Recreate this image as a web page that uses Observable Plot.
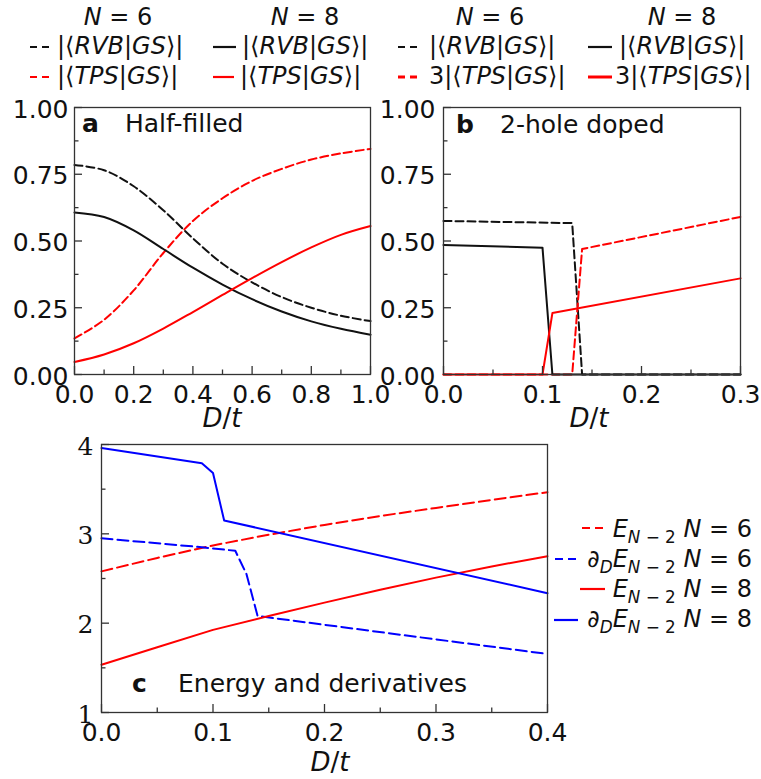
<!DOCTYPE html>
<html>
<head>
<meta charset="utf-8">
<script src="https://cdn.jsdelivr.net/npm/d3@7"></script>
<script src="https://cdn.jsdelivr.net/npm/@observablehq/plot@0.6"></script>
<style>
  html, body { margin: 0; padding: 0; background: #fff; }
  #root { position: relative; width: 761px; height: 779px; overflow: hidden; font-family: "DejaVu Sans", sans-serif; }
  #root > svg { position: absolute; left: 0; top: 0; overflow: visible; }
</style>
</head>
<body>
<div id="root"></div>
<script>
// ---------- Panel a: half-filled ----------
const aX      = [0, 0.1, 0.2, 0.3, 0.4, 0.5, 0.6, 0.7, 0.8, 0.9, 1.0];
const aRvbN6  = [0.785, 0.765, 0.705, 0.615, 0.51, 0.415, 0.345, 0.29, 0.25, 0.22, 0.20];
const aTpsN6  = [0.135, 0.205, 0.315, 0.455, 0.575, 0.66, 0.725, 0.77, 0.805, 0.828, 0.845];
const aRvbN8  = [0.607, 0.590, 0.540, 0.470, 0.400, 0.337, 0.282, 0.236, 0.199, 0.171, 0.149];
const aTpsN8  = [0.047, 0.075, 0.117, 0.172, 0.234, 0.298, 0.361, 0.421, 0.476, 0.523, 0.556];

// ---------- Panel b: 2-hole doped ----------
const bRvbN6X = [0, 0.13, 0.14, 0.3];
const bRvbN6Y = [0.575, 0.567, 0, 0];
const bTpsN6X = [0, 0.13, 0.14, 0.3];
const bTpsN6Y = [0, 0, 0.47, 0.59];
const bRvbN8X = [0, 0.1, 0.11, 0.3];
const bRvbN8Y = [0.485, 0.475, 0, 0];
const bTpsN8X = [0, 0.1, 0.11, 0.3];
const bTpsN8Y = [0, 0, 0.23, 0.36];

// ---------- Panel c: energy and derivatives ----------
const cX      = [0, 0.05, 0.1, 0.15, 0.2, 0.25, 0.3, 0.35, 0.4];
const cEN6    = [2.58, 2.73, 2.87, 2.99, 3.10, 3.20, 3.29, 3.38, 3.466];
const cEN8    = [1.535, 1.73, 1.925, 2.08, 2.23, 2.375, 2.51, 2.635, 2.75];
const cDN6X   = [0, 0.09, 0.12, 0.13, 0.14, 0.4];
const cDN6Y   = [2.95, 2.85, 2.81, 2.55, 2.08, 1.655];
const cDN8X   = [0, 0.09, 0.10, 0.11, 0.4];
const cDN8Y   = [3.96, 3.79, 3.68, 3.15, 2.335];

// ---------- ticks ----------
const aXMajor = [0, 0.2, 0.4, 0.6, 0.8, 1.0];
const aXMinor = [0.1, 0.3, 0.5, 0.7, 0.9];
const abYMajor = [0, 0.25, 0.5, 0.75, 1.0];
const abYMinor = [0.125, 0.375, 0.625, 0.875];
const bXMajor = [0, 0.1, 0.2, 0.3];
const bXMinor = [0.05, 0.15, 0.25];
const cXMajor = [0, 0.1, 0.2, 0.3, 0.4];
const cXMinor = [0.05, 0.15, 0.25, 0.35];
const cYMajor = [1, 2, 3, 4];
const cYMinor = [1.5, 2.5, 3.5];

const W = 761, H = 779;
const root = document.getElementById("root");
const pts = (xs, ys) => xs.map((x, i) => ({x, y: ys[i]}));
const FRAME = "#333";

function panel({left, right, top, bottom, xDomain, yDomain, xMajor, xMinor, yMajor, yMinor, xFmt, yFmt, series, yFont, yPad}) {
  const pw = right - left, ph = bottom - top;
  const marks = [];
  for (const s of series) {
    marks.push(Plot.line(pts(s.x, s.y), {x: "x", y: "y", stroke: s.color, strokeWidth: 2,
      strokeDasharray: s.dash || null, curve: s.curve || "linear"}));
  }
  marks.push(
    Plot.frame({stroke: FRAME, strokeWidth: 1.3}),
    Plot.tickX(xMajor, {x: d => d, insetTop: ph - 8, stroke: FRAME, strokeWidth: 1.3}),
    Plot.tickX(xMinor, {x: d => d, insetTop: ph - 4.5, stroke: FRAME, strokeWidth: 1.3}),
    Plot.tickY(yMajor, {y: d => d, insetRight: pw - 8, stroke: FRAME, strokeWidth: 1.3}),
    Plot.tickY(yMinor, {y: d => d, insetRight: pw - 4.5, stroke: FRAME, strokeWidth: 1.3}),
    Plot.axisX(xMajor, {tickSize: 0, tickPadding: 11, tickFormat: xFmt, fontSize: 25, label: null, fill: "#111"}),
    Plot.axisY(yMajor, {tickSize: 0, tickPadding: yPad, tickFormat: yFmt, fontSize: 25, label: null, fill: "#111",
      dy: 2, fontFamily: yFont || "DejaVu Sans"})
  );
  const svg = Plot.plot({
    width: W, height: H,
    marginLeft: left, marginRight: W - right, marginTop: top, marginBottom: H - bottom,
    x: {domain: xDomain, axis: null},
    y: {domain: yDomain, axis: null},
    style: {background: "transparent", overflow: "visible", fontFamily: "DejaVu Sans", color: "#111"},
    marks
  });
  root.appendChild(svg);
}

panel({left: 74, right: 370, top: 107, bottom: 374, xDomain: [0, 1], yDomain: [0, 1],
  xMajor: aXMajor, xMinor: aXMinor, yMajor: abYMajor, yMinor: abYMinor,
  xFmt: d3.format(".1f"), yFmt: d3.format(".2f"), yPad: 6,
  series: [
    {x: aX, y: aRvbN6, color: "#111", dash: "8,4", curve: "catmull-rom"},
    {x: aX, y: aTpsN6, color: "#ff0000", dash: "8,4", curve: "catmull-rom"},
    {x: aX, y: aRvbN8, color: "#111", curve: "catmull-rom"},
    {x: aX, y: aTpsN8, color: "#ff0000", curve: "catmull-rom"}
  ]});

panel({left: 443, right: 740, top: 107, bottom: 374, xDomain: [0, 0.3], yDomain: [0, 1],
  xMajor: bXMajor, xMinor: bXMinor, yMajor: abYMajor, yMinor: abYMinor,
  xFmt: d3.format(".1f"), yFmt: d3.format(".2f"), yPad: 8,
  series: [
    {x: bRvbN6X, y: bRvbN6Y, color: "#111", dash: "8,4"},
    {x: bTpsN6X, y: bTpsN6Y, color: "#ff0000", dash: "8,4"},
    {x: bRvbN8X, y: bRvbN8Y, color: "#111"},
    {x: bTpsN8X, y: bTpsN8Y, color: "#ff0000"}
  ]});

panel({left: 101, right: 547, top: 444, bottom: 712, xDomain: [0, 0.4], yDomain: [1, 4],
  xMajor: cXMajor, xMinor: cXMinor, yMajor: cYMajor, yMinor: cYMinor,
  xFmt: d3.format(".1f"), yFmt: d3.format("d"), yPad: 8, yFont: "DejaVu Serif",
  series: [
    {x: cX, y: cEN6, color: "#ff0000", dash: "11,5"},
    {x: cDN6X, y: cDN6Y, color: "#0000ff", dash: "11,5"},
    {x: cX, y: cEN8, color: "#ff0000"},
    {x: cDN8X, y: cDN8Y, color: "#0000ff"}
  ]});

// ---------- overlay text: legends, labels, annotations ----------
const ov = d3.create("svg").attr("width", W).attr("height", H)
  .style("font-family", "DejaVu Sans").style("overflow", "visible");
root.appendChild(ov.node());

function txt(x, y, parts, {anchor = "start", size = 24, weight = "normal"} = {}) {
  const t = ov.append("text").attr("x", x).attr("y", y).attr("text-anchor", anchor)
    .attr("font-size", size).attr("font-weight", weight).attr("fill", "#111")
    .style("white-space", "pre");
  let inSub = false;
  for (const p of parts) {
    const s = t.append("tspan").text(p.t);
    if (p.i) s.attr("font-style", "oblique");
    if (p.b) s.attr("font-weight", "bold");
    if (p.sub) {
      s.attr("font-size", size * 0.7);
      if (!inSub) s.attr("dy", size * 0.25);
      inSub = true;
    } else if (inSub) {
      s.attr("dy", -size * 0.25);
      inSub = false;
    }
  }
  return t;
}
function sample(x1, x2, y, color, dash, w = 2.2) {
  ov.append("line").attr("x1", x1).attr("x2", x2).attr("y1", y).attr("y2", y)
    .attr("stroke", color).attr("stroke-width", w).attr("stroke-dasharray", dash || null);
}

const N6 = [{t: "N", i: 1}, {t: " = 6"}];
const N8 = [{t: "N", i: 1}, {t: " = 8"}];
const RVB = [{t: "|⟨"}, {t: "RVB", i: 1}, {t: "|"}, {t: "GS", i: 1}, {t: "⟩|"}];
const TPS = [{t: "|⟨"}, {t: "TPS", i: 1}, {t: "|"}, {t: "GS", i: 1}, {t: "⟩|"}];
const TPS3 = [{t: "3"}].concat(TPS);

// top-left legend
txt(118, 25, N6, {anchor: "middle"});
txt(305, 25, N8, {anchor: "middle"});
sample(30, 50, 47, "#111", "7,5");
txt(57, 54, RVB);
sample(213, 236, 47, "#111");
txt(242, 54, RVB);
sample(30, 50, 77, "#ff0000", "7,5");
txt(57, 84, TPS);
sample(213, 234, 77, "#ff0000");
txt(240, 84, TPS);

// top-right legend
txt(490, 25, N6, {anchor: "middle"});
txt(682, 25, N8, {anchor: "middle"});
sample(398, 420, 47, "#111", "7,5");
txt(429, 54, RVB);
sample(588, 612, 47, "#111");
txt(619, 54, RVB);
sample(398, 420, 77, "#ff0000", "7,5", 3);
txt(429, 84, TPS3);
sample(588, 612, 77, "#ff0000", null, 3);
txt(615, 84, TPS3);

// panel c legend
const EN = [{t: "E", i: 1}, {t: "N", i: 1, sub: 1}, {t: " − 2", sub: 1}];
const dEN = [{t: "∂"}, {t: "D", i: 1, sub: 1}].concat(EN);
txt(752, 537, EN.concat([{t: " "}, ...N6]), {anchor: "end"});
sample(582, 604, 528, "#ff0000", "8,5");
txt(752, 567, dEN.concat([{t: " "}, ...N6]), {anchor: "end"});
sample(555, 576, 559, "#0000ff", "8,5");
txt(752, 597, EN.concat([{t: " "}, ...N8]), {anchor: "end"});
sample(580, 605, 589, "#ff0000");
txt(752, 627, dEN.concat([{t: " "}, ...N8]), {anchor: "end"});
sample(554, 578, 620, "#0000ff");

// axis labels
const Dt = [{t: "D", i: 1}, {t: "/"}, {t: "t", i: 1}];
txt(222, 427, Dt, {anchor: "middle", size: 26});
txt(589, 427, Dt, {anchor: "middle", size: 26});
txt(330, 771, Dt, {anchor: "middle", size: 26});

// panel annotations
txt(82, 132, [{t: "a", b: 1}], {size: 25, weight: "bold"});
txt(125, 132, [{t: "Half-filled"}], {size: 25});
txt(456, 133, [{t: "b", b: 1}], {size: 25, weight: "bold"});
txt(500, 133, [{t: "2-hole doped"}], {size: 25});
txt(132, 692, [{t: "c", b: 1}], {size: 25, weight: "bold"});
txt(178, 692, [{t: "Energy and derivatives"}], {size: 25});
</script>
</body>
</html>
